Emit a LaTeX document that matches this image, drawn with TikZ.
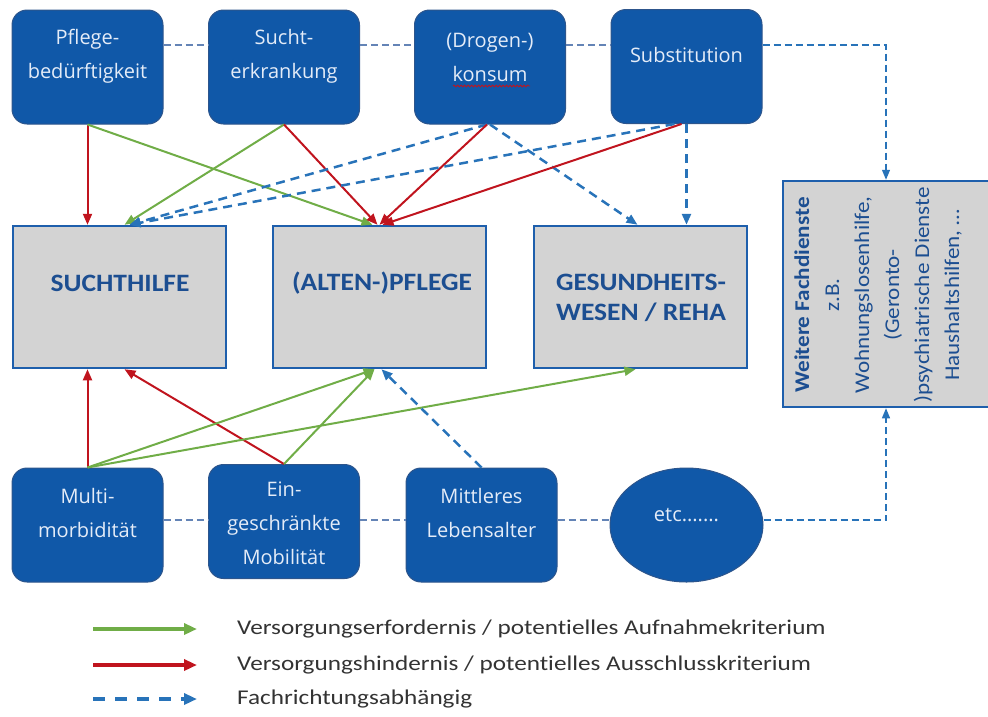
\documentclass[tikz,border=0pt]{standalone}
\usepackage{fontspec}
\setmainfont{Open Sans}
\newfontfamily\calfont[FakeStretch=1.1,Ligatures=NoCommon]{Carlito}
\newfontfamily\legfont[FakeStretch=1.2,Ligatures=NoCommon]{Carlito}
\usetikzlibrary{arrows.meta,shapes.geometric,decorations.pathmorphing}

\definecolor{nodeblue}{RGB}{16,88,168}
\definecolor{nodeedge}{RGB}{45,85,140}
\definecolor{boxgray}{RGB}{211,211,211}
\definecolor{boxedge}{RGB}{30,95,172}
\definecolor{boxtext}{RGB}{28,78,145}
\definecolor{nodetext}{RGB}{228,236,248}
\definecolor{arrgreen}{RGB}{112,173,71}
\definecolor{arrred}{RGB}{192,20,30}
\definecolor{arrblue}{RGB}{40,115,185}
\definecolor{linkgray}{RGB}{100,132,182}

\tikzset{
  factor/.style={draw=nodeedge, line width=1pt, fill=nodeblue, rounded corners=15pt,
    minimum width=151pt, minimum height=114pt, inner sep=0pt},
  etcshape/.style={ellipse, draw=nodeedge, line width=1pt, fill=nodeblue,
    minimum width=153pt, minimum height=114pt, inner sep=0pt},
  factortext/.style={text=nodetext, font=\fontsize{20}{34}\selectfont, align=center, inner sep=0pt},
  sector/.style={draw=boxedge, line width=2.5pt, fill=boxgray,
    minimum width=213pt, minimum height=142pt, inner sep=0pt},
  sectortext/.style={text=boxtext, font=\calfont\bfseries\fontsize{25}{30}\selectfont,
    align=center, inner sep=0pt},
  conn/.style={line width=2pt, -{Triangle[length=11pt,width=9pt]}},
  req/.style={conn, color=arrgreen},
  excl/.style={conn, color=arrred},
  dep/.style={conn, color=arrblue, line width=2.5pt, dash pattern=on 9pt off 6pt},
  link/.style={color=linkgray, line width=1.2pt, dash pattern=on 7pt off 4pt},
  linkarrow/.style={link, color=arrblue, -{Triangle[length=10pt,width=8pt]}},
  legendtext/.style={anchor=west, inner sep=0pt, text=black!80,
    font=\legfont\fontsize{21}{24}\selectfont},
}

\begin{document}
\begin{tikzpicture}[x=1pt,y=-1pt]
\useasboundingbox (0,0) rectangle (988,716);

% helper rows for the thin dashed links
\coordinate (topline) at (0,45);
\coordinate (lowline) at (0,520);

% factor boxes, top row
\node[factor] (pfl) at (87.5,67) {};
\node[factor] (suc) at (284,67) {};
\node[factor] (dro) at (490,67) {};
\node[factor] (sub) at (686.5,66.5) {};
\node[factortext] (pflt) at (87.5,56) {Pflege-\\bedürftigkeit};
\node[factortext] (suct) at (284,56) {Sucht-\\erkrankung};
\node[factortext] (drot) at (490,57) {(Drogen-)\\konsum};
\node[factortext] (subt) at (686.5,55) {Substitution};
% spell-check squiggle under "konsum"
\draw[arrred, line width=0.8pt, decorate,
  decoration={snake, amplitude=0.9pt, segment length=3.5pt}] (453,86) -- (530,86);

% care sectors
\node[sector] (sh)  at (119.5,297) {};
\node[sector] (alt) at (379.5,297) {};
\node[sector] (gw)  at (640.5,297) {};
\node[sectortext] (sht)  at (120,283) {SUCHTHILFE};
\node[sectortext] (altt) at (382,283) {(ALTEN-)PFLEGE};
\node[sectortext] (gwt)  at (641,298) {GESUNDHEITS-\\WESEN / REHA};

% further services
\node[sector, minimum width=206pt, minimum height=226pt] (wfd) at (886,294) {};
\node[rotate=90, align=center, inner sep=0pt, text=boxtext,
  font=\calfont\fontsize{21}{30}\selectfont] (wfdt) at (878,295)
  {{\bfseries Weitere Fachdienste}\\z.B.\\Wohnungslosenhilfe,\\(Geronto-\\)psychiatrische Dienste\\Haushaltshilfen, …};

% factor boxes, bottom row
\node[factor] (mm)  at (87.5,525) {};
\node[factor] (ein) at (284,521.5) {};
\node[factor] (mit) at (481.5,525) {};
\node[etcshape] (etc) at (686.5,525) {};
\node[factortext] (mmt)  at (87.5,513) {Multi-\\morbidität};
\node[factortext] (eint) at (284,523) {Ein-\\geschränkte\\Mobilität};
\node[factortext] (mitt) at (481.5,513) {Mittleres\\Lebensalter};
\node[factortext] (etct) at (686.5,515) {etc.......};

% thin dashed links along the rows
\draw[link] (pfl.east |- topline) -- (suc.west |- topline);
\draw[link] (suc.east |- topline) -- (dro.west |- topline);
\draw[link] (dro.east |- topline) -- (sub.west |- topline);
\draw[linkarrow] (sub.east |- topline) -| (wfd.north);
\draw[link] (mm.east |- lowline) -- (ein.west |- lowline);
\draw[link] (ein.east |- lowline) -- (mit.west |- lowline);
\draw[link] (mit.east |- lowline) -- (etc.west |- lowline);
\draw[linkarrow] (etc.east |- lowline) -| (wfd.south);

% top row to sectors
\draw[excl] (pfl.south) -- (pfl.south |- sh.north);
\draw[req]  (pfl.south) -- ([xshift=-7]alt.north);
\draw[req]  (suc.south) -- ([xshift=5]sh.north);
\draw[excl] (suc.south) -- ([xshift=-2]alt.north);
\draw[dep]  ([xshift=-3]dro.south) -- ([xshift=10]sh.north);
\draw[excl] ([xshift=-3]dro.south) -- ([xshift=0]alt.north);
\draw[dep]  (dro.south) -- ([xshift=-3]gw.north);
\draw[dep]  ([xshift=-12]sub.south) -- ([xshift=10]sh.north);
\draw[excl] ([xshift=-5]sub.south) -- ([xshift=3]alt.north);
\draw[dep]  (sub.south) -- (sub.south |- gw.north);

% bottom row to sectors
\draw[excl] (mm.north) -- (mm.north |- sh.south);
\draw[excl] (ein.north) -- ([xshift=5]sh.south);
\draw[req]  (mm.north) -- ([xshift=-5]alt.south);
\draw[req]  (mm.north) -- ([xshift=-5]gw.south);
\draw[req]  (ein.north) -- ([xshift=-5]alt.south);
\draw[dep]  (mit.north) -- ([xshift=2]alt.south);

% legend
\coordinate (lg1a) at (93,629);  \coordinate (lg1b) at (197,629);
\coordinate (lg2a) at (93,665);  \coordinate (lg2b) at (197,665);
\coordinate (lg3a) at (93,699);  \coordinate (lg3b) at (197,699);
\draw[req, line width=3.5pt, -{Triangle[length=13pt,width=11pt]}] (lg1a) -- (lg1b);
\draw[excl, line width=3.5pt, -{Triangle[length=13pt,width=11pt]}] (lg2a) -- (lg2b);
\draw[dep, line width=3.5pt, dash pattern=on 12pt off 10pt, -{Triangle[length=13pt,width=11pt]}] (lg3a) -- (lg3b);
\node[legendtext] (lt1) at (237,629) {Versorgungserfordernis / potentielles Aufnahmekriterium};
\node[legendtext] (lt2) at (237,665) {Versorgungshindernis / potentielles Ausschlusskriterium};
\node[legendtext] (lt3) at (237,699) {Fachrichtungsabhängig};
\end{tikzpicture}
\end{document}
